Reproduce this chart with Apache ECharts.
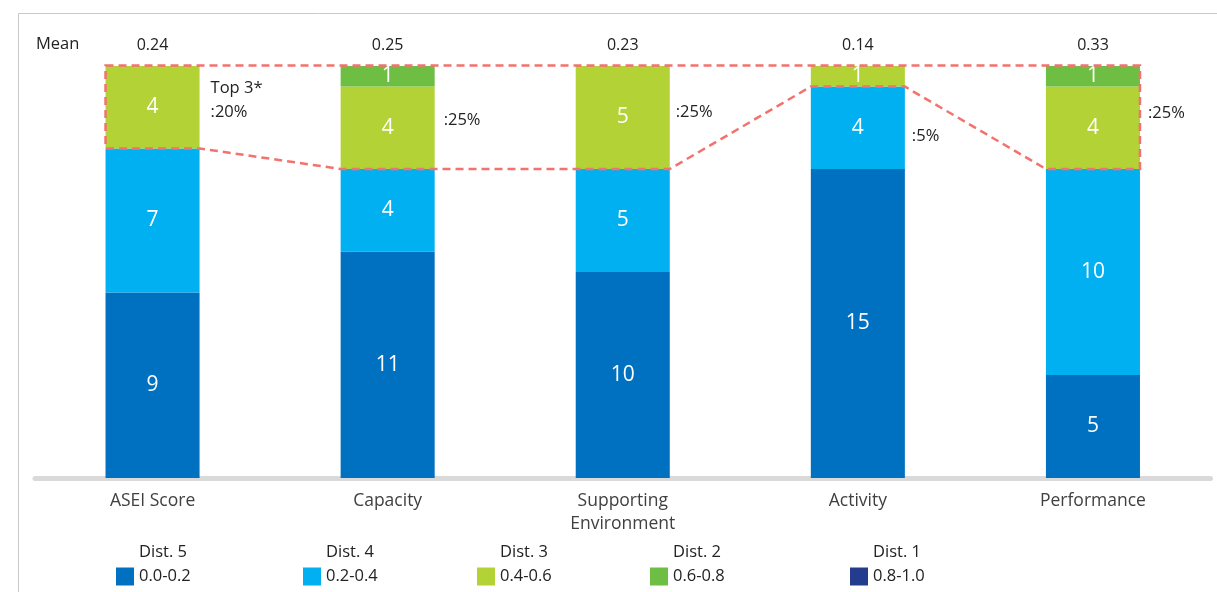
<!DOCTYPE html>
<html>
<head>
<meta charset="utf-8">
<script src="https://cdn.jsdelivr.net/npm/echarts@6/dist/echarts.min.js"></script>
<style>
html,body{margin:0;padding:0;background:#fff;}
#chart{width:1217px;height:592px;}
</style>
</head>
<body>
<div id="chart"></div>
<script>
var categories = ['ASEI Score', 'Capacity', 'Supporting\nEnvironment', 'Activity', 'Performance'];
var meanLabels = ['0.24', '0.25', '0.23', '0.14', '0.33'];
var dist5 = [9, 11, 10, 15, 5];
var dist4 = [7, 4, 5, 4, 10];
var dist3 = [4, 4, 5, 1, 4];
var dist2 = [0, 1, 0, 0, 1];
var dist1 = [0, 0, 0, 0, 0];
var top3Labels = ['Top 3*\n:20%', ':25%', ':25%', ':5%', ':25%'];
var seriesNames = ['Dist. 5', 'Dist. 4', 'Dist. 3', 'Dist. 2', 'Dist. 1'];
var rangeLabels = ['0.0-0.2', '0.2-0.4', '0.4-0.6', '0.6-0.8', '0.8-1.0'];

var colors = ['#0070C0', '#00B0F0', '#B2D235', '#6FBE44', '#243C8E'];
var seriesData = [dist5, dist4, dist3, dist2, dist1];
var FONT = 'Open Sans';

var chart = echarts.init(document.getElementById('chart'), null, {renderer: 'canvas'});

var barSeries = seriesNames.map(function (name, k) {
  return {
    name: name,
    type: 'bar',
    stack: 'total',
    barWidth: '40%',
    xAxisIndex: 0,
    yAxisIndex: 0,
    itemStyle: {color: colors[k]},
    label: {
      show: true,
      position: 'inside',
      color: '#fff',
      fontSize: 21,
      fontFamily: FONT,
      formatter: function (p) { return p.value > 0 ? String(p.value) : ''; }
    },
    data: seriesData[k]
  };
});

// Top-3 polygon and percentage labels
var labelDy = [-7, 3, -5, 60, -4];
var labelDx = [11, 9, 6, 7, 8];
var customSeries = {
  type: 'custom',
  xAxisIndex: 0,
  yAxisIndex: 0,
  z: 10,
  silent: true,
  data: categories.map(function (c, i) { return i; }),
  renderItem: function (params, api) {
    var i = api.value(0);
    var half = api.size([1, 0])[0] * 0.4 / 2;
    var children = [];
    var n = categories.length;
    var totals = categories.map(function (c, j) {
      return dist5[j] + dist4[j] + dist3[j] + dist2[j] + dist1[j];
    });
    var topVal = Math.max.apply(null, totals);
    if (i === 0) {
      var pts = [];
      var first = api.coord([0, topVal]);
      var last = api.coord([n - 1, topVal]);
      pts.push([first[0] - half, first[1] - 0.5]);
      pts.push([last[0] + half, last[1] - 0.5]);
      for (var j = n - 1; j >= 0; j--) {
        var b = api.coord([j, dist5[j] + dist4[j]]);
        pts.push([b[0] + half, b[1]]);
        pts.push([b[0] - half, b[1]]);
      }
      children.push({
        type: 'polygon',
        shape: {points: pts},
        style: {fill: 'none', stroke: '#F2736D', lineWidth: 2.5, lineDash: [8, 5]}
      });
    }
    var base = dist5[i] + dist4[i];
    var mid = api.coord([i, (base + totals[i]) / 2]);
    children.push({
      type: 'text',
      style: {
        text: top3Labels[i],
        x: mid[0] + half + labelDx[i],
        y: mid[1] + labelDy[i],
        align: 'left',
        verticalAlign: 'middle',
        fill: '#222',
        fontSize: 16.5,
        fontFamily: FONT,
        lineHeight: 24
      }
    });
    return {type: 'group', children: children};
  }
};

var legendLeft = [116, 303, 477, 650, 850];
var legends = seriesNames.map(function (name, k) {
  return {
    data: [name],
    left: legendLeft[k],
    top: 544,
    padding: 0,
    itemWidth: 18,
    itemHeight: 18,
    itemGap: 0,
    selectedMode: false,
    icon: 'rect',
    formatter: function (nm) {
      var idx = seriesNames.indexOf(nm);
      return '{a|' + nm + '}\n{b|' + rangeLabels[idx] + '}\n{c| }';
    },
    textStyle: {
      fontFamily: FONT,
      color: '#222',
      rich: {
        a: {fontSize: 16.5, lineHeight: 24, fontFamily: FONT, color: '#222'},
        b: {fontSize: 16.5, lineHeight: 24, fontFamily: FONT, color: '#222'},
        c: {fontSize: 16.5, lineHeight: 24, fontFamily: FONT}
      }
    }
  };
});

var option = {
  animation: false,
  backgroundColor: '#fff',
  grid: {left: 35, right: 6.5, top: 66, bottom: 114, containLabel: false},
  xAxis: [
    {
      type: 'category',
      data: categories,
      offset: 2,
      axisLine: {show: true, lineStyle: {color: '#D9D9D9', width: 5}},
      axisTick: {show: false},
      axisLabel: {
        interval: 0,
        color: '#404040',
        fontSize: 17.5,
        fontFamily: FONT,
        lineHeight: 23,
        margin: 10
      }
    },
    {
      type: 'category',
      data: meanLabels,
      position: 'top',
      axisLine: {show: false},
      axisTick: {show: false},
      axisLabel: {
        interval: 0,
        color: '#222',
        fontSize: 16,
        fontFamily: FONT,
        margin: 13
      }
    }
  ],
  yAxis: {
    type: 'value',
    min: 0,
    max: 20,
    show: false,
    splitLine: {show: false}
  },
  legend: legends,
  graphic: [
    {
      type: 'rect',
      silent: true,
      shape: {x: 18.5, y: 13.5, width: 1400, height: 800},
      style: {fill: 'none', stroke: '#C8C8C8', lineWidth: 1},
      z: -10
    },
    {
      type: 'text',
      left: 36,
      top: 36,
      style: {text: 'Mean', fill: '#222', fontSize: 16.5, fontFamily: FONT}
    }
  ],
  series: barSeries.concat([customSeries])
};

chart.setOption(option);
</script>
</body>
</html>
